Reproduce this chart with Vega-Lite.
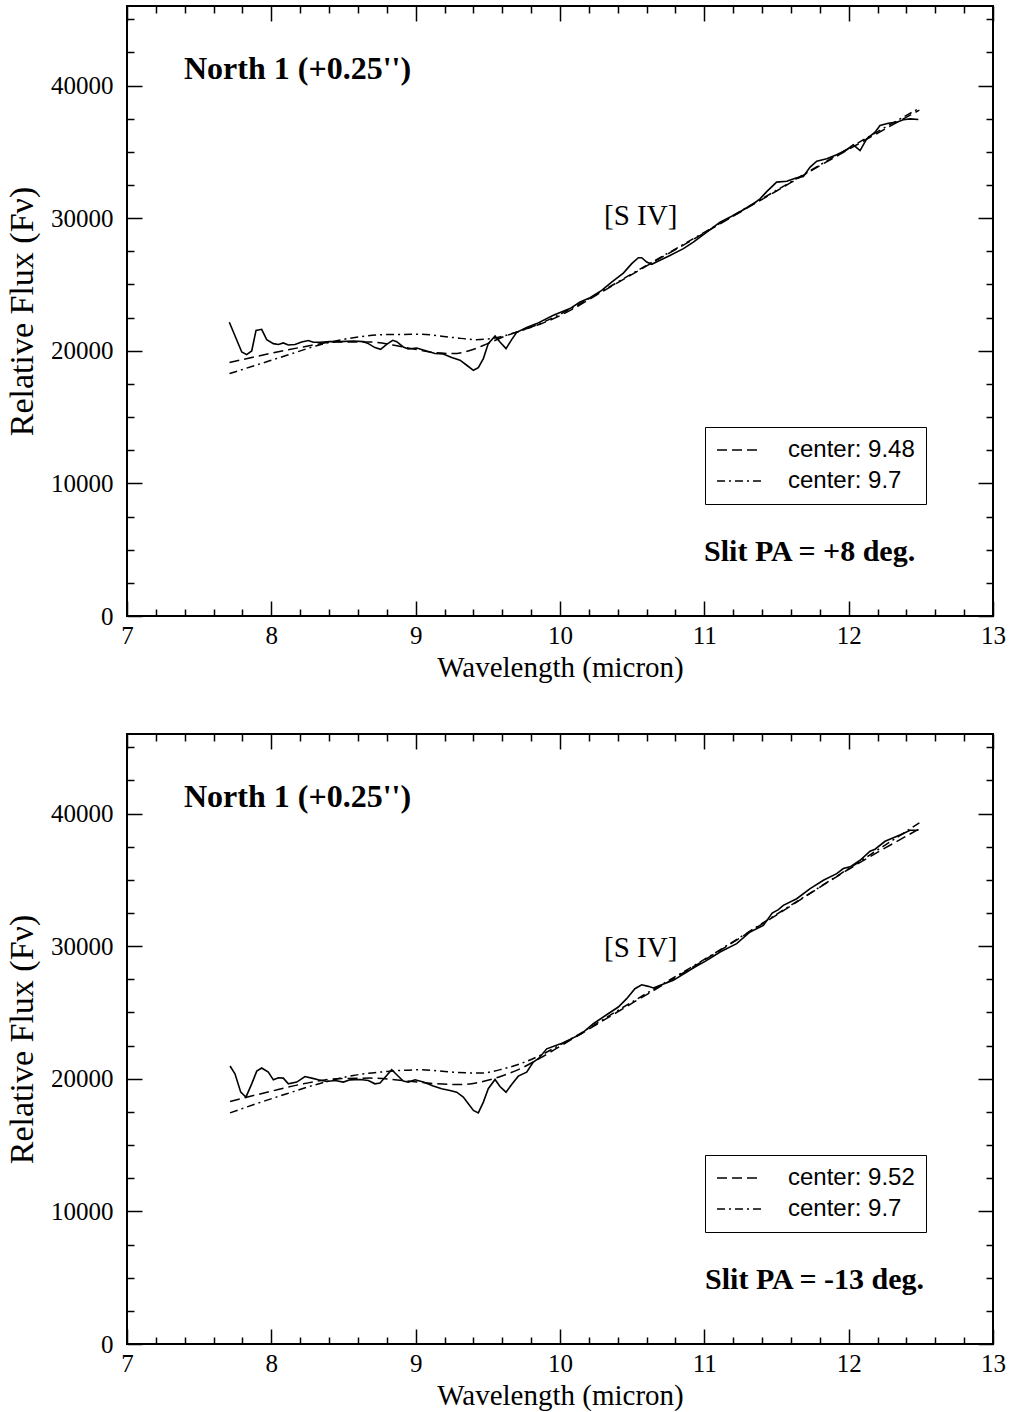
{
  "$schema": "https://vega.github.io/schema/vega-lite/v6.json",
  "padding": {"left": 4, "top": 4, "right": 10, "bottom": 0},
  "spacing": 49,
  "config": {
    "view": {"stroke": "black", "strokeWidth": 2},
    "font": "Liberation Serif",
    "axis": {"domain": false, "grid": false, "tickColor": "black", "tickWidth": 1.5, "labelColor": "black", "titleColor": "black", "labelFont": "Liberation Serif", "titleFont": "Liberation Serif", "labelFontSize": 25, "titleFontSize": 29, "titleFontWeight": "normal", "labelFlush": false, "labelOverlap": false}
  },
  "resolve": {"scale": {"strokeDash": "independent"}},
  "datasets": {
    "top_obs": [
      {"w": 7.709, "f": 22150}, {"w": 7.795, "f": 19910}, {"w": 7.829, "f": 19710}, {"w": 7.864, "f": 19990}, {"w": 7.894, "f": 21540}, {"w": 7.933, "f": 21620}, {"w": 7.968, "f": 20840}, {"w": 8.014, "f": 20540}, {"w": 8.049, "f": 20470}, {"w": 8.083, "f": 20590}, {"w": 8.118, "f": 20440}, {"w": 8.164, "f": 20470}, {"w": 8.21, "f": 20670}, {"w": 8.256, "f": 20770}, {"w": 8.291, "f": 20640}, {"w": 8.337, "f": 20640}, {"w": 8.406, "f": 20690}, {"w": 8.476, "f": 20690}, {"w": 8.568, "f": 20740}, {"w": 8.637, "f": 20690}, {"w": 8.672, "f": 20540}, {"w": 8.718, "f": 20240}, {"w": 8.757, "f": 20110}, {"w": 8.799, "f": 20490}, {"w": 8.841, "f": 20790}, {"w": 8.869, "f": 20690}, {"w": 8.914, "f": 20290}, {"w": 8.949, "f": 20140}, {"w": 9.007, "f": 20210}, {"w": 9.076, "f": 19990}, {"w": 9.134, "f": 19790}, {"w": 9.191, "f": 19760}, {"w": 9.25, "f": 19490}, {"w": 9.307, "f": 19290}, {"w": 9.354, "f": 18910}, {"w": 9.4, "f": 18530}, {"w": 9.434, "f": 18730}, {"w": 9.469, "f": 19410}, {"w": 9.503, "f": 20540}, {"w": 9.55, "f": 21120}, {"w": 9.584, "f": 20660}, {"w": 9.626, "f": 20160}, {"w": 9.665, "f": 20840}, {"w": 9.7, "f": 21390}, {"w": 9.769, "f": 21750}, {"w": 9.839, "f": 22050}, {"w": 9.954, "f": 22680}, {"w": 10.069, "f": 23180}, {"w": 10.139, "f": 23680}, {"w": 10.208, "f": 24000}, {"w": 10.289, "f": 24560}, {"w": 10.358, "f": 25180}, {"w": 10.439, "f": 25860}, {"w": 10.497, "f": 26570}, {"w": 10.543, "f": 27020}, {"w": 10.566, "f": 27020}, {"w": 10.601, "f": 26690}, {"w": 10.635, "f": 26520}, {"w": 10.693, "f": 26820}, {"w": 10.762, "f": 27190}, {"w": 10.855, "f": 27700}, {"w": 10.924, "f": 28200}, {"w": 11.017, "f": 28950}, {"w": 11.109, "f": 29700}, {"w": 11.224, "f": 30330}, {"w": 11.34, "f": 31090}, {"w": 11.386, "f": 31460}, {"w": 11.432, "f": 32000}, {"w": 11.501, "f": 32720}, {"w": 11.571, "f": 32790}, {"w": 11.64, "f": 33050}, {"w": 11.686, "f": 33140}, {"w": 11.733, "f": 33850}, {"w": 11.779, "f": 34300}, {"w": 11.848, "f": 34480}, {"w": 11.917, "f": 34780}, {"w": 11.987, "f": 35160}, {"w": 12.032, "f": 35530}, {"w": 12.079, "f": 35100}, {"w": 12.125, "f": 35980}, {"w": 12.183, "f": 36480}, {"w": 12.217, "f": 36990}, {"w": 12.275, "f": 37160}, {"w": 12.333, "f": 37240}, {"w": 12.379, "f": 37420}, {"w": 12.425, "f": 37490}, {"w": 12.483, "f": 37440}
    ],
    "top_fit": [
      {"w": 7.71, "f": 19110, "series": "center: 9.48"}, {"w": 7.99, "f": 19790, "series": "center: 9.48"}, {"w": 8.22, "f": 20290, "series": "center: 9.48"}, {"w": 8.45, "f": 20660, "series": "center: 9.48"}, {"w": 8.68, "f": 20660, "series": "center: 9.48"}, {"w": 8.91, "f": 20290, "series": "center: 9.48"}, {"w": 9.14, "f": 19850, "series": "center: 9.48"}, {"w": 9.26, "f": 19790, "series": "center: 9.48"}, {"w": 9.37, "f": 20000, "series": "center: 9.48"}, {"w": 9.49, "f": 20500, "series": "center: 9.48"}, {"w": 9.6, "f": 21020, "series": "center: 9.48"}, {"w": 9.72, "f": 21490, "series": "center: 9.48"}, {"w": 9.86, "f": 22000, "series": "center: 9.48"}, {"w": 10.0, "f": 22650, "series": "center: 9.48"}, {"w": 10.3, "f": 24500, "series": "center: 9.48"}, {"w": 10.6, "f": 26400, "series": "center: 9.48"}, {"w": 10.9, "f": 28250, "series": "center: 9.48"}, {"w": 11.2, "f": 30150, "series": "center: 9.48"}, {"w": 11.5, "f": 32050, "series": "center: 9.48"}, {"w": 11.8, "f": 33950, "series": "center: 9.48"}, {"w": 12.1, "f": 35800, "series": "center: 9.48"}, {"w": 12.49, "f": 38150, "series": "center: 9.48"},
      {"w": 7.71, "f": 18280, "series": "center: 9.7"}, {"w": 7.875, "f": 18850, "series": "center: 9.7"}, {"w": 8.107, "f": 19660, "series": "center: 9.7"}, {"w": 8.337, "f": 20450, "series": "center: 9.7"}, {"w": 8.568, "f": 20990, "series": "center: 9.7"}, {"w": 8.8, "f": 21220, "series": "center: 9.7"}, {"w": 9.03, "f": 21240, "series": "center: 9.7"}, {"w": 9.26, "f": 21000, "series": "center: 9.7"}, {"w": 9.42, "f": 20840, "series": "center: 9.7"}, {"w": 9.54, "f": 20950, "series": "center: 9.7"}, {"w": 9.68, "f": 21340, "series": "center: 9.7"}, {"w": 9.86, "f": 22050, "series": "center: 9.7"}, {"w": 10.0, "f": 22750, "series": "center: 9.7"}, {"w": 10.3, "f": 24550, "series": "center: 9.7"}, {"w": 10.6, "f": 26450, "series": "center: 9.7"}, {"w": 10.9, "f": 28300, "series": "center: 9.7"}, {"w": 11.2, "f": 30200, "series": "center: 9.7"}, {"w": 11.5, "f": 32100, "series": "center: 9.7"}, {"w": 11.8, "f": 34000, "series": "center: 9.7"}, {"w": 12.1, "f": 35900, "series": "center: 9.7"}, {"w": 12.49, "f": 38300, "series": "center: 9.7"}
    ],
    "bot_obs": [
      {"w": 7.714, "f": 20960}, {"w": 7.748, "f": 20380}, {"w": 7.788, "f": 18990}, {"w": 7.824, "f": 18620}, {"w": 7.864, "f": 19620}, {"w": 7.899, "f": 20580}, {"w": 7.933, "f": 20810}, {"w": 7.979, "f": 20500}, {"w": 8.014, "f": 19920}, {"w": 8.049, "f": 20080}, {"w": 8.083, "f": 20050}, {"w": 8.118, "f": 19620}, {"w": 8.176, "f": 19750}, {"w": 8.233, "f": 20170}, {"w": 8.28, "f": 20050}, {"w": 8.326, "f": 19920}, {"w": 8.384, "f": 19800}, {"w": 8.441, "f": 19870}, {"w": 8.499, "f": 19750}, {"w": 8.545, "f": 19920}, {"w": 8.614, "f": 19950}, {"w": 8.672, "f": 19870}, {"w": 8.718, "f": 19620}, {"w": 8.753, "f": 19680}, {"w": 8.799, "f": 20250}, {"w": 8.834, "f": 20680}, {"w": 8.869, "f": 20300}, {"w": 8.914, "f": 19830}, {"w": 8.949, "f": 19750}, {"w": 8.996, "f": 19920}, {"w": 9.053, "f": 19750}, {"w": 9.122, "f": 19450}, {"w": 9.18, "f": 19250}, {"w": 9.238, "f": 19120}, {"w": 9.284, "f": 18990}, {"w": 9.33, "f": 18620}, {"w": 9.365, "f": 18110}, {"w": 9.4, "f": 17610}, {"w": 9.434, "f": 17430}, {"w": 9.469, "f": 18240}, {"w": 9.503, "f": 19250}, {"w": 9.55, "f": 19950}, {"w": 9.584, "f": 19420}, {"w": 9.626, "f": 18990}, {"w": 9.665, "f": 19570}, {"w": 9.711, "f": 20200}, {"w": 9.769, "f": 20500}, {"w": 9.815, "f": 21260}, {"w": 9.85, "f": 21510}, {"w": 9.908, "f": 22260}, {"w": 10.023, "f": 22720}, {"w": 10.15, "f": 23400}, {"w": 10.231, "f": 24150}, {"w": 10.323, "f": 24830}, {"w": 10.404, "f": 25410}, {"w": 10.462, "f": 26040}, {"w": 10.519, "f": 26790}, {"w": 10.566, "f": 27090}, {"w": 10.612, "f": 26970}, {"w": 10.647, "f": 26850}, {"w": 10.704, "f": 27090}, {"w": 10.785, "f": 27420}, {"w": 10.878, "f": 28050}, {"w": 10.935, "f": 28430}, {"w": 11.017, "f": 28930}, {"w": 11.109, "f": 29560}, {"w": 11.224, "f": 30190}, {"w": 11.317, "f": 31070}, {"w": 11.409, "f": 31570}, {"w": 11.47, "f": 32500}, {"w": 11.513, "f": 32750}, {"w": 11.547, "f": 33080}, {"w": 11.64, "f": 33580}, {"w": 11.733, "f": 34340}, {"w": 11.825, "f": 34970}, {"w": 11.917, "f": 35470}, {"w": 11.963, "f": 35850}, {"w": 12.01, "f": 35980}, {"w": 12.079, "f": 36480}, {"w": 12.148, "f": 37160}, {"w": 12.183, "f": 37310}, {"w": 12.252, "f": 37910}, {"w": 12.31, "f": 38170}, {"w": 12.379, "f": 38490}, {"w": 12.425, "f": 38740}, {"w": 12.483, "f": 38740}
    ],
    "bot_fit": [
      {"w": 7.714, "f": 18290, "series": "center: 9.52"}, {"w": 7.991, "f": 19040, "series": "center: 9.52"}, {"w": 8.222, "f": 19620, "series": "center: 9.52"}, {"w": 8.453, "f": 20000, "series": "center: 9.52"}, {"w": 8.684, "f": 20050, "series": "center: 9.52"}, {"w": 8.914, "f": 19870, "series": "center: 9.52"}, {"w": 9.146, "f": 19620, "series": "center: 9.52"}, {"w": 9.307, "f": 19560, "series": "center: 9.52"}, {"w": 9.446, "f": 19750, "series": "center: 9.52"}, {"w": 9.607, "f": 20250, "series": "center: 9.52"}, {"w": 9.723, "f": 20750, "series": "center: 9.52"}, {"w": 9.862, "f": 21560, "series": "center: 9.52"}, {"w": 10.0, "f": 22450, "series": "center: 9.52"}, {"w": 10.5, "f": 25700, "series": "center: 9.52"}, {"w": 11.0, "f": 28950, "series": "center: 9.52"}, {"w": 11.5, "f": 32350, "series": "center: 9.52"}, {"w": 12.0, "f": 35800, "series": "center: 9.52"}, {"w": 12.49, "f": 38850, "series": "center: 9.52"},
      {"w": 7.714, "f": 17430, "series": "center: 9.7"}, {"w": 7.875, "f": 18040, "series": "center: 9.7"}, {"w": 8.107, "f": 18870, "series": "center: 9.7"}, {"w": 8.337, "f": 19650, "series": "center: 9.7"}, {"w": 8.568, "f": 20250, "series": "center: 9.7"}, {"w": 8.799, "f": 20550, "series": "center: 9.7"}, {"w": 9.03, "f": 20680, "series": "center: 9.7"}, {"w": 9.261, "f": 20500, "series": "center: 9.7"}, {"w": 9.446, "f": 20430, "series": "center: 9.7"}, {"w": 9.607, "f": 20750, "series": "center: 9.7"}, {"w": 9.723, "f": 21130, "series": "center: 9.7"}, {"w": 9.862, "f": 21760, "series": "center: 9.7"}, {"w": 10.0, "f": 22550, "series": "center: 9.7"}, {"w": 10.5, "f": 25800, "series": "center: 9.7"}, {"w": 11.0, "f": 29000, "series": "center: 9.7"}, {"w": 11.5, "f": 32400, "series": "center: 9.7"}, {"w": 12.0, "f": 35850, "series": "center: 9.7"}, {"w": 12.49, "f": 39300, "series": "center: 9.7"}
    ]
  },
  "vconcat": [
    {
      "width": 866, "height": 610,
      "resolve": {"axis": {"x": "independent", "y": "independent"}},
      "layer": [
        {
          "data": {"name": "top_fit"},
          "mark": {"type": "line", "color": "black", "strokeWidth": 1.5, "interpolate": "monotone"},
          "encoding": {
            "x": {"field": "w", "type": "quantitative", "scale": {"domain": [7, 13], "nice": false, "zero": false}, "axis": {"orient": "top", "values": [7, 8, 9, 10, 11, 12, 13], "tickSize": -15, "labels": false, "title": null}},
            "y": {"field": "f", "type": "quantitative", "scale": {"domain": [0, 46000], "nice": false}, "axis": {"orient": "right", "values": [0, 10000, 20000, 30000, 40000], "tickSize": -15, "labels": false, "title": null}},
            "strokeDash": {"field": "series", "type": "nominal", "scale": {"domain": ["center: 9.48", "center: 9.7"], "range": [[10, 5], [8, 4, 2, 4]]}, "legend": {"title": null, "orient": "none", "legendX": 578, "legendY": 421, "strokeColor": "black", "fillColor": "white", "padding": 11, "symbolType": "M-1,0H3", "symbolSize": 484, "symbolStrokeWidth": 1.5, "symbolStrokeColor": "black", "labelFont": "Liberation Sans", "labelFontSize": 24, "labelColor": "black", "labelOffset": 48, "rowPadding": 7, "labelLimit": 300}}
          }
        },
        {
          "data": {"name": "top_obs"},
          "mark": {"type": "line", "color": "black", "strokeWidth": 1.6},
          "encoding": {
            "x": {"field": "w", "type": "quantitative", "axis": {"orient": "bottom", "values": [7, 8, 9, 10, 11, 12, 13], "tickSize": -15, "labelPadding": 22, "format": "d", "title": "Wavelength (micron)", "titlePadding": 5}},
            "y": {"field": "f", "type": "quantitative", "axis": {"orient": "left", "values": [0, 10000, 20000, 30000, 40000], "tickSize": -15, "labelPadding": 29, "format": "d", "title": "Relative Flux (Fν)", "titleFontSize": 34, "titlePadding": 11}}
          }
        },
        {
          "data": {"values": [{}]},
          "mark": {"type": "text", "text": "North 1 (+0.25'')", "fontSize": 32, "fontWeight": "bold", "align": "left", "baseline": "alphabetic", "color": "black"},
          "encoding": {
            "x": {"datum": 7.395, "type": "quantitative", "axis": {"orient": "bottom", "values": [7.2, 7.4, 7.6, 7.8, 8.2, 8.4, 8.6, 8.8, 9.2, 9.4, 9.6, 9.8, 10.2, 10.4, 10.6, 10.8, 11.2, 11.4, 11.6, 11.8, 12.2, 12.4, 12.6, 12.8], "tickSize": -7, "labels": false, "title": null}},
            "y": {"datum": 40500, "type": "quantitative", "axis": {"orient": "left", "values": [2500, 5000, 7500, 12500, 15000, 17500, 22500, 25000, 27500, 32500, 35000, 37500, 42500, 45000], "tickSize": -7, "labels": false, "title": null}}
          }
        },
        {
          "data": {"values": [{}]},
          "mark": {"type": "text", "text": "[S IV]", "fontSize": 29, "align": "left", "baseline": "alphabetic", "color": "black"},
          "encoding": {
            "x": {"datum": 10.305, "type": "quantitative", "axis": {"orient": "top", "values": [7.2, 7.4, 7.6, 7.8, 8.2, 8.4, 8.6, 8.8, 9.2, 9.4, 9.6, 9.8, 10.2, 10.4, 10.6, 10.8, 11.2, 11.4, 11.6, 11.8, 12.2, 12.4, 12.6, 12.8], "tickSize": -7, "labels": false, "title": null}},
            "y": {"datum": 29450, "type": "quantitative", "axis": {"orient": "right", "values": [2500, 5000, 7500, 12500, 15000, 17500, 22500, 25000, 27500, 32500, 35000, 37500, 42500, 45000], "tickSize": -7, "labels": false, "title": null}}
          }
        },
        {
          "data": {"values": [{}]},
          "mark": {"type": "text", "text": "Slit PA = +8 deg.", "fontSize": 30, "fontWeight": "bold", "align": "left", "baseline": "alphabetic", "color": "black"},
          "encoding": {
            "x": {"datum": 10.998, "type": "quantitative", "axis": null},
            "y": {"datum": 4170, "type": "quantitative", "axis": null}
          }
        }
      ]
    },
    {
      "width": 866, "height": 610,
      "resolve": {"axis": {"x": "independent", "y": "independent"}},
      "layer": [
        {
          "data": {"name": "bot_fit"},
          "mark": {"type": "line", "color": "black", "strokeWidth": 1.5, "interpolate": "monotone"},
          "encoding": {
            "x": {"field": "w", "type": "quantitative", "scale": {"domain": [7, 13], "nice": false, "zero": false}, "axis": {"orient": "top", "values": [7, 8, 9, 10, 11, 12, 13], "tickSize": -15, "labels": false, "title": null}},
            "y": {"field": "f", "type": "quantitative", "scale": {"domain": [0, 46000], "nice": false}, "axis": {"orient": "right", "values": [0, 10000, 20000, 30000, 40000], "tickSize": -15, "labels": false, "title": null}},
            "strokeDash": {"field": "series", "type": "nominal", "scale": {"domain": ["center: 9.52", "center: 9.7"], "range": [[10, 5], [8, 4, 2, 4]]}, "legend": {"title": null, "orient": "none", "legendX": 578, "legendY": 421, "strokeColor": "black", "fillColor": "white", "padding": 11, "symbolType": "M-1,0H3", "symbolSize": 484, "symbolStrokeWidth": 1.5, "symbolStrokeColor": "black", "labelFont": "Liberation Sans", "labelFontSize": 24, "labelColor": "black", "labelOffset": 48, "rowPadding": 7, "labelLimit": 300}}
          }
        },
        {
          "data": {"name": "bot_obs"},
          "mark": {"type": "line", "color": "black", "strokeWidth": 1.6},
          "encoding": {
            "x": {"field": "w", "type": "quantitative", "axis": {"orient": "bottom", "values": [7, 8, 9, 10, 11, 12, 13], "tickSize": -15, "labelPadding": 22, "format": "d", "title": "Wavelength (micron)", "titlePadding": 5}},
            "y": {"field": "f", "type": "quantitative", "axis": {"orient": "left", "values": [0, 10000, 20000, 30000, 40000], "tickSize": -15, "labelPadding": 29, "format": "d", "title": "Relative Flux (Fν)", "titleFontSize": 34, "titlePadding": 11}}
          }
        },
        {
          "data": {"values": [{}]},
          "mark": {"type": "text", "text": "North 1 (+0.25'')", "fontSize": 32, "fontWeight": "bold", "align": "left", "baseline": "alphabetic", "color": "black"},
          "encoding": {
            "x": {"datum": 7.395, "type": "quantitative", "axis": {"orient": "bottom", "values": [7.2, 7.4, 7.6, 7.8, 8.2, 8.4, 8.6, 8.8, 9.2, 9.4, 9.6, 9.8, 10.2, 10.4, 10.6, 10.8, 11.2, 11.4, 11.6, 11.8, 12.2, 12.4, 12.6, 12.8], "tickSize": -7, "labels": false, "title": null}},
            "y": {"datum": 40500, "type": "quantitative", "axis": {"orient": "left", "values": [2500, 5000, 7500, 12500, 15000, 17500, 22500, 25000, 27500, 32500, 35000, 37500, 42500, 45000], "tickSize": -7, "labels": false, "title": null}}
          }
        },
        {
          "data": {"values": [{}]},
          "mark": {"type": "text", "text": "[S IV]", "fontSize": 29, "align": "left", "baseline": "alphabetic", "color": "black"},
          "encoding": {
            "x": {"datum": 10.305, "type": "quantitative", "axis": {"orient": "top", "values": [7.2, 7.4, 7.6, 7.8, 8.2, 8.4, 8.6, 8.8, 9.2, 9.4, 9.6, 9.8, 10.2, 10.4, 10.6, 10.8, 11.2, 11.4, 11.6, 11.8, 12.2, 12.4, 12.6, 12.8], "tickSize": -7, "labels": false, "title": null}},
            "y": {"datum": 29200, "type": "quantitative", "axis": {"orient": "right", "values": [2500, 5000, 7500, 12500, 15000, 17500, 22500, 25000, 27500, 32500, 35000, 37500, 42500, 45000], "tickSize": -7, "labels": false, "title": null}}
          }
        },
        {
          "data": {"values": [{}]},
          "mark": {"type": "text", "text": "Slit PA = -13 deg.", "fontSize": 30, "fontWeight": "bold", "align": "left", "baseline": "alphabetic", "color": "black"},
          "encoding": {
            "x": {"datum": 11.005, "type": "quantitative", "axis": null},
            "y": {"datum": 4150, "type": "quantitative", "axis": null}
          }
        }
      ]
    }
  ]
}
